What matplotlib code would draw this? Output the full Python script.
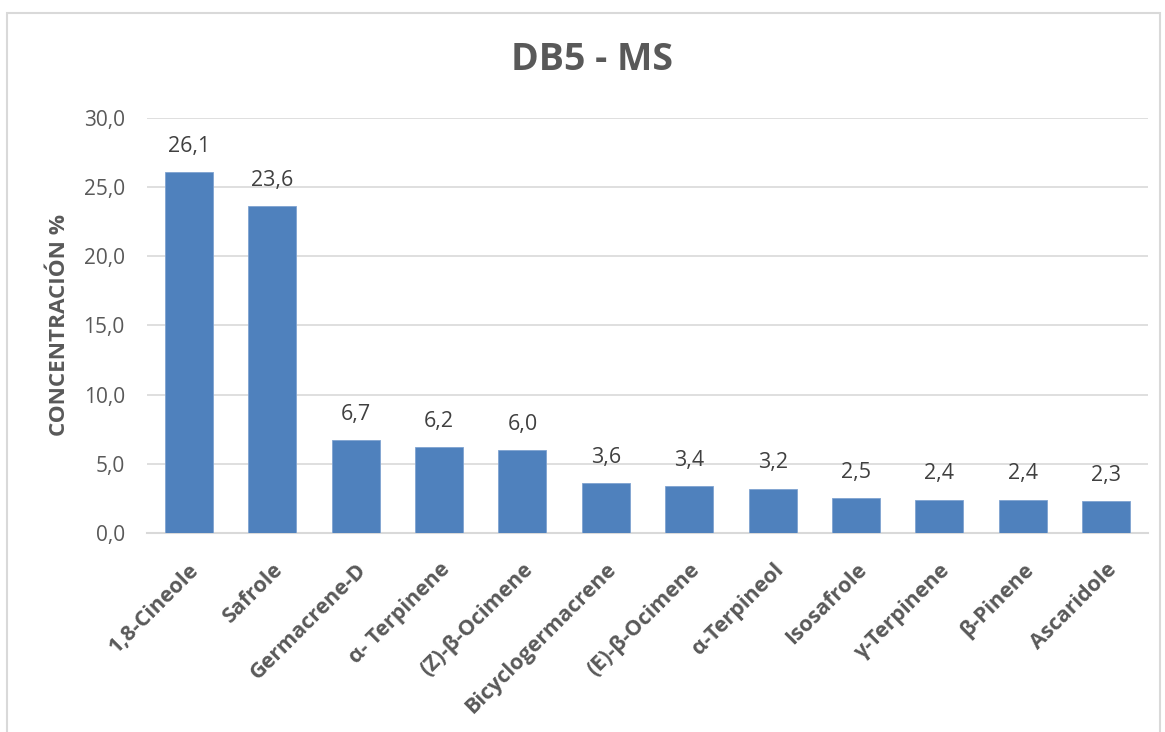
import matplotlib.pyplot as plt
from matplotlib.patches import Rectangle

compounds = ['1,8-Cineole', 'Safrole', 'Germacrene-D', 'α- Terpinene', '(Z)-β-Ocimene',
             'Bicyclogermacrene', '(E)-β-Ocimene', 'α-Terpineol', 'Isosafrole',
             'γ-Terpinene', 'β-Pinene', 'Ascaridole']
concentration = [26.1, 23.6, 6.7, 6.2, 6.0, 3.6, 3.4, 3.2, 2.5, 2.4, 2.4, 2.3]
yticks = [0, 5, 10, 15, 20, 25, 30]

plt.rcParams['font.family'] = ['Open Sans', 'DejaVu Sans']
text_color = '#595959'

fig = plt.figure(figsize=(11.65, 7.32), dpi=100)
ax = fig.add_axes([0.1262, 0.272, 0.8592, 0.567])

x = range(len(compounds))
bars = ax.bar(x, concentration, width=0.575, color='#4F81BD',
              edgecolor='#7FA3D1', linewidth=0.6, zorder=3)

for xi, v in zip(x, concentration):
    ax.annotate(f'{v:.1f}'.replace('.', ','), (xi, v), xytext=(0, 11),
                textcoords='offset points', ha='center', va='bottom',
                fontsize=15.5, color='#404040')

ax.set_ylim(0, 30)
ax.set_xlim(-0.5, len(compounds) - 0.5)
ax.set_yticks(yticks)
ax.set_yticklabels([f'{t:.1f}'.replace('.', ',') for t in yticks], fontsize=15, color=text_color)
ax.set_xticks(list(x))
ax.set_xticklabels(compounds, rotation=45, ha='right', rotation_mode='anchor',
                   fontsize=15.5, fontweight='bold', color=text_color)
ax.tick_params(axis='both', length=0)
ax.tick_params(axis='y', pad=16)
ax.tick_params(axis='x', pad=19)
ax.grid(axis='y', color='#D9D9D9', linewidth=1.2, zorder=0)
for s in ['top', 'right', 'left']:
    ax.spines[s].set_visible(False)
ax.spines['bottom'].set_color('#D9D9D9')
ax.spines['bottom'].set_linewidth(1.5)

ax.set_ylabel('CONCENTRACIÓN %', fontsize=16.2, fontweight='bold', color=text_color, labelpad=10)
fig.text(0.508, 0.918, 'DB5 - MS', ha='center', va='center', fontsize=27,
         fontweight='bold', color=text_color)

fig.patches.append(Rectangle((0.006, -0.01), 0.99, 0.992, transform=fig.transFigure,
                             fill=False, edgecolor='#D9D9D9', linewidth=1.5))

fig.savefig('out.png', dpi=100, facecolor='white')
